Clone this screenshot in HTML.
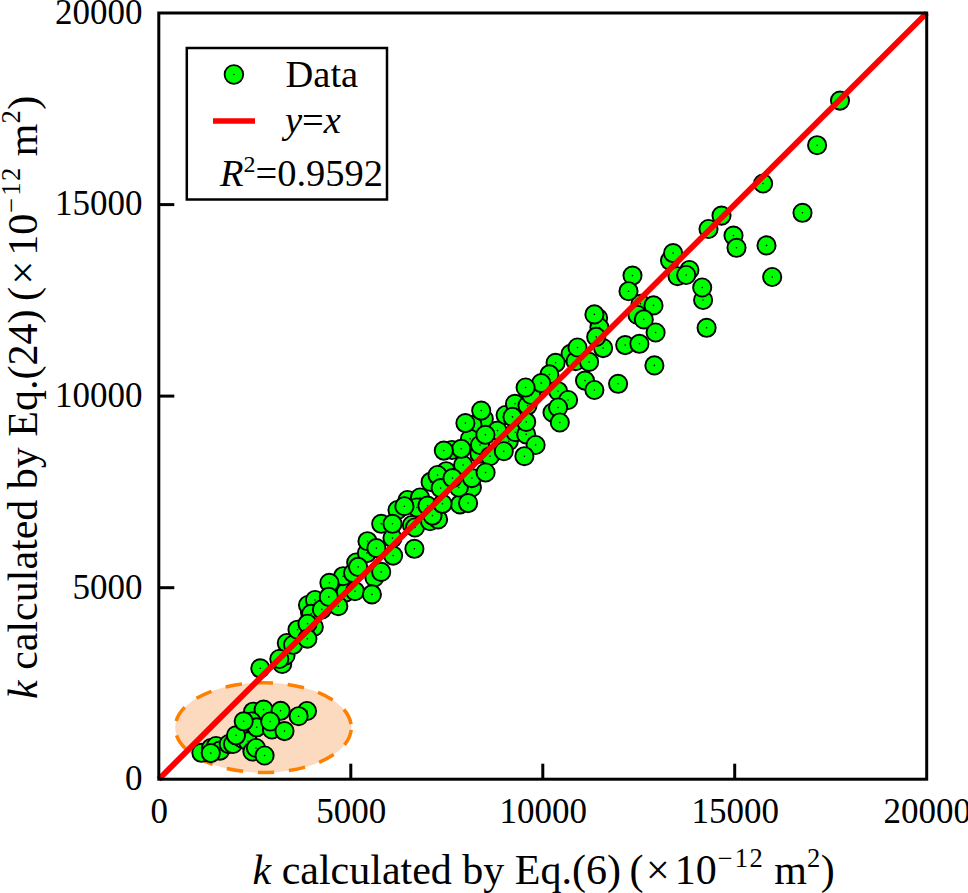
<!DOCTYPE html>
<html><head><meta charset="utf-8"><style>
html,body{margin:0;padding:0;background:#fff;width:968px;height:893px;overflow:hidden}
svg{position:absolute;left:0;top:0;font-family:"Liberation Serif",serif}
.d{fill:#000;stroke:none}
</style></head><body>
<svg width="968" height="893" viewBox="0 0 968 893">
<ellipse cx="263.25" cy="727.6" rx="88.05" ry="44.9" fill="#fbdac0" stroke="#ff8000" stroke-width="3.5" stroke-dasharray="16.5 14.7" stroke-dashoffset="28.8"/>
<g fill="#00ff00" stroke="#000" stroke-width="1.9"><circle cx="201.4" cy="752.8" r="9.1"/><circle class="d" cx="201.4" cy="752.8" r="0.8"/><circle cx="211.0" cy="748.0" r="9.1"/><circle class="d" cx="211.0" cy="748.0" r="0.8"/><circle cx="216.0" cy="746.0" r="9.1"/><circle class="d" cx="216.0" cy="746.0" r="0.8"/><circle cx="220.0" cy="750.6" r="9.1"/><circle class="d" cx="220.0" cy="750.6" r="0.8"/><circle cx="228.7" cy="744.1" r="9.1"/><circle class="d" cx="228.7" cy="744.1" r="0.8"/><circle cx="233.0" cy="744.0" r="9.1"/><circle class="d" cx="233.0" cy="744.0" r="0.8"/><circle cx="242.0" cy="738.5" r="9.1"/><circle class="d" cx="242.0" cy="738.5" r="0.8"/><circle cx="248.0" cy="741.4" r="9.1"/><circle class="d" cx="248.0" cy="741.4" r="0.8"/><circle cx="252.4" cy="751.5" r="9.1"/><circle class="d" cx="252.4" cy="751.5" r="0.8"/><circle cx="253.1" cy="711.7" r="9.1"/><circle class="d" cx="253.1" cy="711.7" r="0.8"/><circle cx="263.6" cy="709.6" r="9.1"/><circle class="d" cx="263.6" cy="709.6" r="0.8"/><circle cx="251.6" cy="721.5" r="9.1"/><circle class="d" cx="251.6" cy="721.5" r="0.8"/><circle cx="256.7" cy="727.3" r="9.1"/><circle class="d" cx="256.7" cy="727.3" r="0.8"/><circle cx="271.9" cy="729.5" r="9.1"/><circle class="d" cx="271.9" cy="729.5" r="0.8"/><circle cx="307.0" cy="711.0" r="9.1"/><circle class="d" cx="307.0" cy="711.0" r="0.8"/><circle cx="282.2" cy="664.0" r="9.1"/><circle class="d" cx="282.2" cy="664.0" r="0.8"/><circle cx="285.5" cy="655.5" r="9.1"/><circle class="d" cx="285.5" cy="655.5" r="0.8"/><circle cx="286.8" cy="643.0" r="9.1"/><circle class="d" cx="286.8" cy="643.0" r="0.8"/><circle cx="313.8" cy="627.0" r="9.1"/><circle class="d" cx="313.8" cy="627.0" r="0.8"/><circle cx="310.0" cy="612.5" r="9.1"/><circle class="d" cx="310.0" cy="612.5" r="0.8"/><circle cx="308.0" cy="605.0" r="9.1"/><circle class="d" cx="308.0" cy="605.0" r="0.8"/><circle cx="315.0" cy="600.0" r="9.1"/><circle class="d" cx="315.0" cy="600.0" r="0.8"/><circle cx="311.2" cy="613.8" r="9.1"/><circle class="d" cx="311.2" cy="613.8" r="0.8"/><circle cx="345.6" cy="592.5" r="9.1"/><circle class="d" cx="345.6" cy="592.5" r="0.8"/><circle cx="355.0" cy="591.2" r="9.1"/><circle class="d" cx="355.0" cy="591.2" r="0.8"/><circle cx="343.1" cy="576.2" r="9.1"/><circle class="d" cx="343.1" cy="576.2" r="0.8"/><circle cx="353.1" cy="573.1" r="9.1"/><circle class="d" cx="353.1" cy="573.1" r="0.8"/><circle cx="356.2" cy="562.5" r="9.1"/><circle class="d" cx="356.2" cy="562.5" r="0.8"/><circle cx="366.9" cy="553.1" r="9.1"/><circle class="d" cx="366.9" cy="553.1" r="0.8"/><circle cx="367.5" cy="541.2" r="9.1"/><circle class="d" cx="367.5" cy="541.2" r="0.8"/><circle cx="374.4" cy="577.5" r="9.1"/><circle class="d" cx="374.4" cy="577.5" r="0.8"/><circle cx="381.2" cy="523.8" r="9.1"/><circle class="d" cx="381.2" cy="523.8" r="0.8"/><circle cx="411.9" cy="525.0" r="9.1"/><circle class="d" cx="411.9" cy="525.0" r="0.8"/><circle cx="415.0" cy="527.5" r="9.1"/><circle class="d" cx="415.0" cy="527.5" r="0.8"/><circle cx="397.5" cy="510.0" r="9.1"/><circle class="d" cx="397.5" cy="510.0" r="0.8"/><circle cx="407.5" cy="500.0" r="9.1"/><circle class="d" cx="407.5" cy="500.0" r="0.8"/><circle cx="420.0" cy="497.5" r="9.1"/><circle class="d" cx="420.0" cy="497.5" r="0.8"/><circle cx="416.9" cy="507.5" r="9.1"/><circle class="d" cx="416.9" cy="507.5" r="0.8"/><circle cx="430.0" cy="521.2" r="9.1"/><circle class="d" cx="430.0" cy="521.2" r="0.8"/><circle cx="438.1" cy="519.4" r="9.1"/><circle class="d" cx="438.1" cy="519.4" r="0.8"/><circle cx="430.6" cy="481.9" r="9.1"/><circle class="d" cx="430.6" cy="481.9" r="0.8"/><circle cx="460.0" cy="504.4" r="9.1"/><circle class="d" cx="460.0" cy="504.4" r="0.8"/><circle cx="471.9" cy="487.5" r="9.1"/><circle class="d" cx="471.9" cy="487.5" r="0.8"/><circle cx="458.8" cy="487.5" r="9.1"/><circle class="d" cx="458.8" cy="487.5" r="0.8"/><circle cx="446.2" cy="471.2" r="9.1"/><circle class="d" cx="446.2" cy="471.2" r="0.8"/><circle cx="483.8" cy="418.8" r="9.1"/><circle class="d" cx="483.8" cy="418.8" r="0.8"/><circle cx="472.5" cy="425.0" r="9.1"/><circle class="d" cx="472.5" cy="425.0" r="0.8"/><circle cx="470.0" cy="438.8" r="9.1"/><circle class="d" cx="470.0" cy="438.8" r="0.8"/><circle cx="452.0" cy="450.0" r="9.1"/><circle class="d" cx="452.0" cy="450.0" r="0.8"/><circle cx="479.4" cy="453.8" r="9.1"/><circle class="d" cx="479.4" cy="453.8" r="0.8"/><circle cx="480.0" cy="445.0" r="9.1"/><circle class="d" cx="480.0" cy="445.0" r="0.8"/><circle cx="490.0" cy="456.2" r="9.1"/><circle class="d" cx="490.0" cy="456.2" r="0.8"/><circle cx="497.5" cy="430.6" r="9.1"/><circle class="d" cx="497.5" cy="430.6" r="0.8"/><circle cx="508.8" cy="441.2" r="9.1"/><circle class="d" cx="508.8" cy="441.2" r="0.8"/><circle cx="505.6" cy="415.0" r="9.1"/><circle class="d" cx="505.6" cy="415.0" r="0.8"/><circle cx="515.0" cy="403.8" r="9.1"/><circle class="d" cx="515.0" cy="403.8" r="0.8"/><circle cx="527.5" cy="405.6" r="9.1"/><circle class="d" cx="527.5" cy="405.6" r="0.8"/><circle cx="463.1" cy="465.0" r="9.1"/><circle class="d" cx="463.1" cy="465.0" r="0.8"/><circle cx="437.5" cy="475.0" r="9.1"/><circle class="d" cx="437.5" cy="475.0" r="0.8"/><circle cx="570.6" cy="353.8" r="9.1"/><circle class="d" cx="570.6" cy="353.8" r="0.8"/><circle cx="575.6" cy="361.2" r="9.1"/><circle class="d" cx="575.6" cy="361.2" r="0.8"/><circle cx="552.5" cy="412.5" r="9.1"/><circle class="d" cx="552.5" cy="412.5" r="0.8"/><circle cx="531.2" cy="395.0" r="9.1"/><circle class="d" cx="531.2" cy="395.0" r="0.8"/><circle cx="598.1" cy="318.1" r="9.1"/><circle class="d" cx="598.1" cy="318.1" r="0.8"/><circle cx="599.4" cy="327.5" r="9.1"/><circle class="d" cx="599.4" cy="327.5" r="0.8"/><circle cx="640.6" cy="303.8" r="9.1"/><circle class="d" cx="640.6" cy="303.8" r="0.8"/><circle cx="637.5" cy="315.0" r="9.1"/><circle class="d" cx="637.5" cy="315.0" r="0.8"/><circle cx="670.0" cy="260.6" r="9.1"/><circle class="d" cx="670.0" cy="260.6" r="0.8"/><circle cx="677.5" cy="276.2" r="9.1"/><circle class="d" cx="677.5" cy="276.2" r="0.8"/><circle cx="689.4" cy="270.0" r="9.1"/><circle class="d" cx="689.4" cy="270.0" r="0.8"/><circle cx="210.8" cy="753.1" r="9.1"/><circle class="d" cx="210.8" cy="753.1" r="0.8"/><circle cx="236.0" cy="735.3" r="9.1"/><circle class="d" cx="236.0" cy="735.3" r="0.8"/><circle cx="243.7" cy="721.3" r="9.1"/><circle class="d" cx="243.7" cy="721.3" r="0.8"/><circle cx="280.6" cy="710.8" r="9.1"/><circle class="d" cx="280.6" cy="710.8" r="0.8"/><circle cx="298.6" cy="716.2" r="9.1"/><circle class="d" cx="298.6" cy="716.2" r="0.8"/><circle cx="270.2" cy="721.5" r="9.1"/><circle class="d" cx="270.2" cy="721.5" r="0.8"/><circle cx="284.5" cy="731.1" r="9.1"/><circle class="d" cx="284.5" cy="731.1" r="0.8"/><circle cx="256.0" cy="748.0" r="9.1"/><circle class="d" cx="256.0" cy="748.0" r="0.8"/><circle cx="264.6" cy="755.5" r="9.1"/><circle class="d" cx="264.6" cy="755.5" r="0.8"/><circle cx="260.3" cy="668.3" r="9.1"/><circle class="d" cx="260.3" cy="668.3" r="0.8"/><circle cx="279.3" cy="659.0" r="9.1"/><circle class="d" cx="279.3" cy="659.0" r="0.8"/><circle cx="293.1" cy="644.8" r="9.1"/><circle class="d" cx="293.1" cy="644.8" r="0.8"/><circle cx="297.5" cy="629.7" r="9.1"/><circle class="d" cx="297.5" cy="629.7" r="0.8"/><circle cx="307.5" cy="623.7" r="9.1"/><circle class="d" cx="307.5" cy="623.7" r="0.8"/><circle cx="307.4" cy="638.7" r="9.1"/><circle class="d" cx="307.4" cy="638.7" r="0.8"/><circle cx="321.9" cy="609.4" r="9.1"/><circle class="d" cx="321.9" cy="609.4" r="0.8"/><circle cx="338.3" cy="606.2" r="9.1"/><circle class="d" cx="338.3" cy="606.2" r="0.8"/><circle cx="329.4" cy="582.8" r="9.1"/><circle class="d" cx="329.4" cy="582.8" r="0.8"/><circle cx="328.8" cy="596.9" r="9.1"/><circle class="d" cx="328.8" cy="596.9" r="0.8"/><circle cx="358.1" cy="566.9" r="9.1"/><circle class="d" cx="358.1" cy="566.9" r="0.8"/><circle cx="376.4" cy="548.1" r="9.1"/><circle class="d" cx="376.4" cy="548.1" r="0.8"/><circle cx="381.2" cy="571.9" r="9.1"/><circle class="d" cx="381.2" cy="571.9" r="0.8"/><circle cx="371.9" cy="594.4" r="9.1"/><circle class="d" cx="371.9" cy="594.4" r="0.8"/><circle cx="393.1" cy="555.6" r="9.1"/><circle class="d" cx="393.1" cy="555.6" r="0.8"/><circle cx="414.4" cy="548.8" r="9.1"/><circle class="d" cx="414.4" cy="548.8" r="0.8"/><circle cx="392.5" cy="538.1" r="9.1"/><circle class="d" cx="392.5" cy="538.1" r="0.8"/><circle cx="392.5" cy="523.8" r="9.1"/><circle class="d" cx="392.5" cy="523.8" r="0.8"/><circle cx="404.4" cy="506.2" r="9.1"/><circle class="d" cx="404.4" cy="506.2" r="0.8"/><circle cx="427.5" cy="505.6" r="9.1"/><circle class="d" cx="427.5" cy="505.6" r="0.8"/><circle cx="432.5" cy="515.6" r="9.1"/><circle class="d" cx="432.5" cy="515.6" r="0.8"/><circle cx="442.5" cy="503.8" r="9.1"/><circle class="d" cx="442.5" cy="503.8" r="0.8"/><circle cx="440.6" cy="488.1" r="9.1"/><circle class="d" cx="440.6" cy="488.1" r="0.8"/><circle cx="452.5" cy="478.1" r="9.1"/><circle class="d" cx="452.5" cy="478.1" r="0.8"/><circle cx="468.1" cy="503.1" r="9.1"/><circle class="d" cx="468.1" cy="503.1" r="0.8"/><circle cx="471.9" cy="478.1" r="9.1"/><circle class="d" cx="471.9" cy="478.1" r="0.8"/><circle cx="481.2" cy="410.6" r="9.1"/><circle class="d" cx="481.2" cy="410.6" r="0.8"/><circle cx="465.4" cy="423.1" r="9.1"/><circle class="d" cx="465.4" cy="423.1" r="0.8"/><circle cx="485.4" cy="434.8" r="9.1"/><circle class="d" cx="485.4" cy="434.8" r="0.8"/><circle cx="461.2" cy="448.8" r="9.1"/><circle class="d" cx="461.2" cy="448.8" r="0.8"/><circle cx="443.8" cy="450.6" r="9.1"/><circle class="d" cx="443.8" cy="450.6" r="0.8"/><circle cx="503.8" cy="451.2" r="9.1"/><circle class="d" cx="503.8" cy="451.2" r="0.8"/><circle cx="515.4" cy="432.2" r="9.1"/><circle class="d" cx="515.4" cy="432.2" r="0.8"/><circle cx="526.2" cy="434.4" r="9.1"/><circle class="d" cx="526.2" cy="434.4" r="0.8"/><circle cx="526.2" cy="421.9" r="9.1"/><circle class="d" cx="526.2" cy="421.9" r="0.8"/><circle cx="512.5" cy="416.9" r="9.1"/><circle class="d" cx="512.5" cy="416.9" r="0.8"/><circle cx="535.6" cy="445.0" r="9.1"/><circle class="d" cx="535.6" cy="445.0" r="0.8"/><circle cx="524.4" cy="456.2" r="9.1"/><circle class="d" cx="524.4" cy="456.2" r="0.8"/><circle cx="485.6" cy="472.5" r="9.1"/><circle class="d" cx="485.6" cy="472.5" r="0.8"/><circle cx="577.5" cy="347.5" r="9.1"/><circle class="d" cx="577.5" cy="347.5" r="0.8"/><circle cx="589.1" cy="361.9" r="9.1"/><circle class="d" cx="589.1" cy="361.9" r="0.8"/><circle cx="603.1" cy="348.1" r="9.1"/><circle class="d" cx="603.1" cy="348.1" r="0.8"/><circle cx="555.6" cy="362.8" r="9.1"/><circle class="d" cx="555.6" cy="362.8" r="0.8"/><circle cx="549.4" cy="374.4" r="9.1"/><circle class="d" cx="549.4" cy="374.4" r="0.8"/><circle cx="541.2" cy="383.1" r="9.1"/><circle class="d" cx="541.2" cy="383.1" r="0.8"/><circle cx="525.6" cy="387.5" r="9.1"/><circle class="d" cx="525.6" cy="387.5" r="0.8"/><circle cx="558.1" cy="391.2" r="9.1"/><circle class="d" cx="558.1" cy="391.2" r="0.8"/><circle cx="568.1" cy="400.0" r="9.1"/><circle class="d" cx="568.1" cy="400.0" r="0.8"/><circle cx="585.0" cy="380.6" r="9.1"/><circle class="d" cx="585.0" cy="380.6" r="0.8"/><circle cx="594.4" cy="390.0" r="9.1"/><circle class="d" cx="594.4" cy="390.0" r="0.8"/><circle cx="618.1" cy="383.8" r="9.1"/><circle class="d" cx="618.1" cy="383.8" r="0.8"/><circle cx="625.2" cy="345.1" r="9.1"/><circle class="d" cx="625.2" cy="345.1" r="0.8"/><circle cx="558.1" cy="407.5" r="9.1"/><circle class="d" cx="558.1" cy="407.5" r="0.8"/><circle cx="559.8" cy="422.5" r="9.1"/><circle class="d" cx="559.8" cy="422.5" r="0.8"/><circle cx="654.4" cy="365.4" r="9.1"/><circle class="d" cx="654.4" cy="365.4" r="0.8"/><circle cx="596.2" cy="336.9" r="9.1"/><circle class="d" cx="596.2" cy="336.9" r="0.8"/><circle cx="632.5" cy="275.6" r="9.1"/><circle class="d" cx="632.5" cy="275.6" r="0.8"/><circle cx="628.5" cy="291.2" r="9.1"/><circle class="d" cx="628.5" cy="291.2" r="0.8"/><circle cx="594.4" cy="314.4" r="9.1"/><circle class="d" cx="594.4" cy="314.4" r="0.8"/><circle cx="653.5" cy="305.4" r="9.1"/><circle class="d" cx="653.5" cy="305.4" r="0.8"/><circle cx="643.8" cy="319.4" r="9.1"/><circle class="d" cx="643.8" cy="319.4" r="0.8"/><circle cx="655.6" cy="332.5" r="9.1"/><circle class="d" cx="655.6" cy="332.5" r="0.8"/><circle cx="639.4" cy="343.8" r="9.1"/><circle class="d" cx="639.4" cy="343.8" r="0.8"/><circle cx="673.1" cy="253.1" r="9.1"/><circle class="d" cx="673.1" cy="253.1" r="0.8"/><circle cx="686.2" cy="275.0" r="9.1"/><circle class="d" cx="686.2" cy="275.0" r="0.8"/><circle cx="703.1" cy="300.0" r="9.1"/><circle class="d" cx="703.1" cy="300.0" r="0.8"/><circle cx="702.2" cy="287.5" r="9.1"/><circle class="d" cx="702.2" cy="287.5" r="0.8"/><circle cx="706.6" cy="327.8" r="9.1"/><circle class="d" cx="706.6" cy="327.8" r="0.8"/><circle cx="721.5" cy="215.6" r="9.1"/><circle class="d" cx="721.5" cy="215.6" r="0.8"/><circle cx="708.5" cy="229.0" r="9.1"/><circle class="d" cx="708.5" cy="229.0" r="0.8"/><circle cx="733.5" cy="235.6" r="9.1"/><circle class="d" cx="733.5" cy="235.6" r="0.8"/><circle cx="736.5" cy="247.8" r="9.1"/><circle class="d" cx="736.5" cy="247.8" r="0.8"/><circle cx="840.0" cy="100.6" r="9.1"/><circle class="d" cx="840.0" cy="100.6" r="0.8"/><circle cx="817.1" cy="145.2" r="9.1"/><circle class="d" cx="817.1" cy="145.2" r="0.8"/><circle cx="763.1" cy="183.5" r="9.1"/><circle class="d" cx="763.1" cy="183.5" r="0.8"/><circle cx="802.5" cy="212.8" r="9.1"/><circle class="d" cx="802.5" cy="212.8" r="0.8"/><circle cx="766.5" cy="245.4" r="9.1"/><circle class="d" cx="766.5" cy="245.4" r="0.8"/><circle cx="772.2" cy="277.0" r="9.1"/><circle class="d" cx="772.2" cy="277.0" r="0.8"/></g>
<line x1="158.8" y1="779.2" x2="926.7" y2="13.0" stroke="#ff0000" stroke-width="5.8"/>
<rect x="158.8" y="13.0" width="767.9" height="766.2" fill="none" stroke="#000" stroke-width="3"/>
<g stroke="#000" stroke-width="3"><line x1="350.8" y1="779.2" x2="350.8" y2="763.7"/><line x1="158.8" y1="587.7" x2="174.3" y2="587.7"/><line x1="542.8" y1="779.2" x2="542.8" y2="763.7"/><line x1="158.8" y1="396.1" x2="174.3" y2="396.1"/><line x1="734.7" y1="779.2" x2="734.7" y2="763.7"/><line x1="158.8" y1="204.6" x2="174.3" y2="204.6"/></g>
<g font-size="35" fill="#000"><text x="159.3" y="823.3" text-anchor="middle">0</text><text x="351.3" y="823.3" text-anchor="middle">5000</text><text x="543.2" y="823.3" text-anchor="middle">10000</text><text x="735.2" y="823.3" text-anchor="middle">15000</text><text x="927.2" y="823.3" text-anchor="middle">20000</text><text x="142.5" y="790.0" text-anchor="end">0</text><text x="142.5" y="598.5" text-anchor="end">5000</text><text x="142.5" y="406.9" text-anchor="end">10000</text><text x="142.5" y="215.4" text-anchor="end">15000</text><text x="142.5" y="23.8" text-anchor="end">20000</text></g>
<g font-size="42" fill="#000">
<text x="252.5" y="883.5"><tspan font-style="italic">k</tspan> calculated by Eq.(6) <tspan dx="-2">(</tspan><tspan dx="2.5">×</tspan><tspan dx="5">10</tspan><tspan dy="-17" font-size="26.5" dx="1">−<tspan dx="2">1</tspan><tspan dx="1.7">2</tspan></tspan><tspan dy="17" dx="1"> m</tspan><tspan dy="-17" font-size="26.5">2</tspan><tspan dy="17" dx="0.5">)</tspan></text>
<text transform="translate(36.8,0) rotate(-90)" x="-699" y="0"><tspan font-style="italic">k</tspan> calculated by Eq.(24) <tspan dx="-2">(</tspan><tspan dx="2.5">×</tspan><tspan dx="5">10</tspan><tspan dy="-17" font-size="26.5" dx="1">−<tspan dx="2">1</tspan><tspan dx="1.7">2</tspan></tspan><tspan dy="17" dx="1"> m</tspan><tspan dy="-17" font-size="26.5">2</tspan><tspan dy="17" dx="0.5">)</tspan></text>
</g>
<rect x="186.8" y="48" width="200.2" height="151.5" fill="#fff" stroke="#000" stroke-width="2.5"/>
<circle cx="233.9" cy="74.5" r="9.3" fill="#00ff00" stroke="#000" stroke-width="1.8"/>
<circle cx="233.9" cy="74.5" r="0.8" fill="#000"/>
<line x1="213" y1="121" x2="255" y2="121" stroke="#ff0000" stroke-width="5.5"/>
<g font-size="38.5" fill="#000">
<text x="285.5" y="87">Data</text>
<text x="285" y="133"><tspan font-style="italic">y</tspan>=<tspan font-style="italic">x</tspan></text>
<text x="220" y="185.5"><tspan font-style="italic">R</tspan><tspan dy="-14" font-size="24">2</tspan><tspan dy="14">=0.9592</tspan></text>
</g>
</svg>
</body></html>
